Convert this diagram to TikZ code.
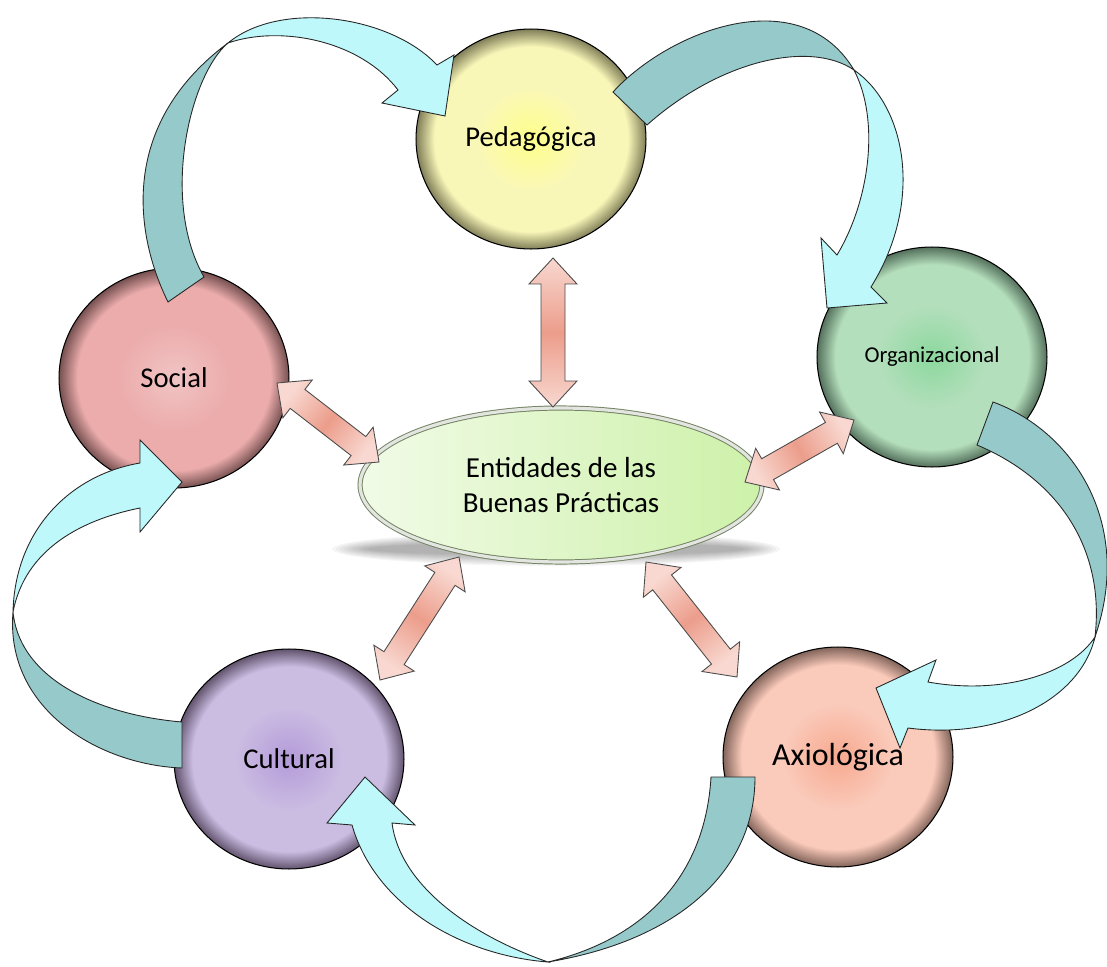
\documentclass[tikz,border=0pt]{standalone}
\usepackage{fontspec}
\setmainfont{Carlito}
\usetikzlibrary{calc,positioning,shapes.geometric}
\definecolor{pedIn}{RGB}{255,255,140}
\definecolor{pedMid}{RGB}{249,247,184}
\definecolor{pedRim}{RGB}{128,126,88}
\definecolor{orgIn}{RGB}{140,216,158}
\definecolor{orgMid}{RGB}{180,223,188}
\definecolor{orgRim}{RGB}{84,112,92}
\definecolor{socIn}{RGB}{241,196,196}
\definecolor{socMid}{RGB}{236,172,172}
\definecolor{socRim}{RGB}{118,80,80}
\definecolor{culIn}{RGB}{180,155,217}
\definecolor{culMid}{RGB}{203,189,226}
\definecolor{culRim}{RGB}{98,84,110}
\definecolor{axiIn}{RGB}{247,169,143}
\definecolor{axiMid}{RGB}{250,202,186}
\definecolor{axiRim}{RGB}{130,100,90}
\definecolor{entLeft}{RGB}{241,251,231}
\definecolor{entRight}{RGB}{205,241,169}
\definecolor{entLine}{RGB}{115,130,98}
\definecolor{ribbonTeal}{RGB}{150,202,202}
\definecolor{ribbonCyan}{RGB}{190,248,250}
\definecolor{twoPale}{RGB}{248,216,208}
\definecolor{twoSalmon}{RGB}{236,157,139}
\newcommand{\ballShading}[4]{\pgfdeclareradialshading{#1}{\pgfpoint{0bp}{0bp}}{color(0bp)=(#2); color(12bp)=(#3); color(21bp)=(#3); color(25bp)=(#4); color(50bp)=(#4)}}
\ballShading{pedBall}{pedIn}{pedMid}{pedRim}
\ballShading{orgBall}{orgIn}{orgMid}{orgRim}
\ballShading{socBall}{socIn}{socMid}{socRim}
\ballShading{culBall}{culIn}{culMid}{culRim}
\ballShading{axiBall}{axiIn}{axiMid}{axiRim}
\tikzstyle{ball} = [ellipse, shade, draw=black, line width=0.6pt, minimum width=4.6cm, minimum height=4.4cm, inner sep=0pt, font=\fontsize{16.3}{19}\selectfont]
\tikzstyle{entStyle} = [ellipse, draw=entLine, line width=0.55pt, double=white!80!entLine, double distance=1.8pt, left color=entLeft, right color=entRight, minimum width=8.04cm, minimum height=3.08cm, inner sep=0pt, align=center, font=\fontsize{16.5}{20}\selectfont]
\tikzstyle{ribbonBack} = [draw=black!85, line width=0.5pt, fill=ribbonTeal]
\tikzstyle{ribbonFront} = [draw=black!85, line width=0.5pt, fill=ribbonCyan]
\tikzstyle{twoWayStyle} = [draw=black!70, line width=0.5pt, left color=twoPale, right color=twoPale, middle color=twoSalmon]
\newcommand{\headLen}{0.52cm}
\newcommand{\headWidth}{0.48cm}
\newcommand{\shaftWidth}{0.24cm}
\newcommand{\twoWay}[2]{
  \pgfmathanglebetweenpoints{\pgfpointanchor{#1}{center}}{\pgfpointanchor{#2}{center}}
  \pgfmathsetmacro{\twoWayShade}{\pgfmathresult - 90}
  \draw [twoWayStyle, shading angle=\twoWayShade] (#1)
    -- ($(#1)!\headLen!(#2)!\headWidth!90:(#2)$) -- ($(#1)!\headLen!(#2)!\shaftWidth!90:(#2)$)
    -- ($(#2)!\headLen!(#1)!\shaftWidth!-90:(#1)$) -- ($(#2)!\headLen!(#1)!\headWidth!-90:(#1)$)
    -- (#2)
    -- ($(#2)!\headLen!(#1)!\headWidth!90:(#1)$) -- ($(#2)!\headLen!(#1)!\shaftWidth!90:(#1)$)
    -- ($(#1)!\headLen!(#2)!\shaftWidth!-90:(#2)$) -- ($(#1)!\headLen!(#2)!\headWidth!-90:(#2)$)
    -- cycle;
}
\begin{document}
\begin{tikzpicture}[x=0.02cm, y=-0.02cm]
  \useasboundingbox (0,0) rectangle (1107,967);
  \foreach \k in {0,...,9} {
    \fill [black, opacity=0.035] (556,549) ellipse ({224-4*\k} and {17-1.2*\k});
  }
  \node [entStyle] (ent) at (561,485) {Entidades de las\\Buenas Prácticas};

  \node [ball, shading=pedBall] (ped) at (531,139) {Pedagógica};
  \node [ball, shading=orgBall, font=\fontsize{12.9}{15}\selectfont] (org) at (932,357) {Organizacional};
  \node [ball, shading=socBall] (soc) at (174,378) {Social};
  \node [ball, shading=culBall] (cul) at (289,759) {Cultural};
  \node [ball, shading=axiBall, font=\fontsize{18.2}{21}\selectfont] (axi) at (838,757) {Axiológica};

  \coordinate (pedTip) at (553,258);
  \coordinate (entTop) at (553,407);
  \coordinate (socTip) at (277,383);
  \coordinate (entLeft) at (379,462);
  \coordinate (orgTip) at (854,420);
  \coordinate (entRight) at (745,482);
  \coordinate (culTip) at (380,680);
  \coordinate (entLowLeft) at (459,557);
  \coordinate (axiTip) at (737,677);
  \coordinate (entLowRight) at (646,562);
  \twoWay{pedTip}{entTop}
  \twoWay{socTip}{entLeft}
  \twoWay{orgTip}{entRight}
  \twoWay{culTip}{entLowLeft}
  \twoWay{axiTip}{entLowRight}

  \filldraw [ribbonBack] (168,302) .. controls (135,235) and (118,125) .. (228,43) .. controls (190,75) and (160,200) .. (204,277) -- cycle;
  \filldraw [ribbonFront] (228,43) .. controls (280,0) and (390,15) .. (437,65) -- (454,55) -- (445,116) -- (382,103) -- (398,90) .. controls (360,40) and (280,25) .. (228,43) -- cycle;

  \filldraw [ribbonBack] (613,92) .. controls (670,30) and (800,-20) .. (854,70) .. controls (810,40) and (720,60) .. (647,125) -- cycle;
  \filldraw [ribbonFront] (854,70) .. controls (905,105) and (925,200) .. (871,287) -- (887,303) -- (827,308) -- (821,238) -- (837,255) .. controls (870,200) and (880,120) .. (854,70) -- cycle;

  \filldraw [ribbonBack] (993,402) .. controls (1070,430) and (1135,520) .. (1095,637) .. controls (1105,550) and (1060,480) .. (977,445) -- cycle;
  \filldraw [ribbonFront] (1095,637) .. controls (1080,700) and (1000,740) .. (908,728) -- (900,748) -- (876,688) -- (936,660) -- (928,682) .. controls (1000,695) and (1070,675) .. (1095,637) -- cycle;

  \filldraw [ribbonBack] (711,777) -- (755,777) .. controls (755,870) and (680,940) .. (548,962) .. controls (640,940) and (705,880) .. (711,777) -- cycle;
  \filldraw [ribbonFront] (548,962) .. controls (460,955) and (375,905) .. (352,825) -- (327,823) -- (365,777) -- (415,825) -- (392,823) .. controls (400,885) and (470,935) .. (548,962) -- cycle;

  \filldraw [ribbonBack] (182,722) .. controls (100,715) and (20,680) .. (13,612) .. controls (5,710) and (100,765) .. (182,768) -- cycle;
  \filldraw [ribbonFront] (13,612) .. controls (15,530) and (70,475) .. (140,463) -- (140,440) -- (182,482) -- (140,532) -- (140,508) .. controls (80,520) and (25,550) .. (13,612) -- cycle;
\end{tikzpicture}
\end{document}
